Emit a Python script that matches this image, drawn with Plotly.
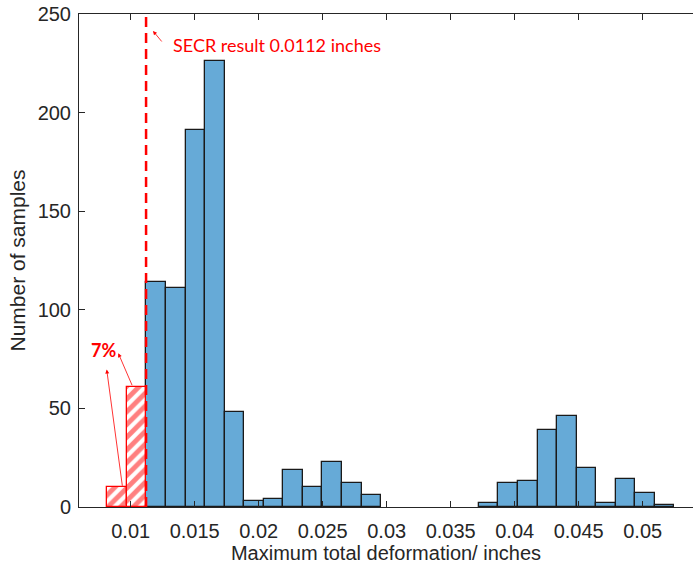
import plotly.graph_objects as go

# ---- data ----
bin_start = 0.00817          # left edge of first bin (inches)
bin_width = 0.001528         # bin width (inches)
counts = [10, 61, 114, 111, 191, 226, 48, 3, 4, 19, 10, 23, 12, 6,
          0, 0, 0, 0, 0,
          2, 12, 13, 39, 46, 20, 2, 14, 7, 1]
secr_value = 0.0112
below_pct_label = "7%"
secr_label = "SECR result 0.0112 inches"
x_tick_vals = [0.01, 0.015, 0.02, 0.025, 0.03, 0.035, 0.04, 0.045, 0.05]
x_tick_text = ["0.01", "0.015", "0.02", "0.025", "0.03", "0.035", "0.04", "0.045", "0.05"]
y_tick_vals = [0, 50, 100, 150, 200, 250]

left_edges = [bin_start + i * bin_width for i in range(len(counts))]

red_x = [e for e in left_edges if e < secr_value - 1e-6]
red_y = [c for e, c in zip(left_edges, counts) if e < secr_value - 1e-6]
blue_x = [e for e, c in zip(left_edges, counts) if e >= secr_value - 1e-6 and c > 0]
blue_y = [c for e, c in zip(left_edges, counts) if e >= secr_value - 1e-6 and c > 0]

AX = "#262626"
RED = "#ff0000"
FONT = "Liberation Sans"
CAL = "Lato"

fig = go.Figure()
fig.add_trace(go.Bar(
    x=blue_x, y=blue_y, width=bin_width, offset=0,
    marker=dict(color="#66aad7", line=dict(color="#1a1a1a", width=1.3)),
    showlegend=False, hoverinfo="x+y",
))
fig.add_trace(go.Bar(
    x=red_x, y=red_y, width=bin_width, offset=0,
    marker=dict(color="white", line=dict(color=RED, width=1.3),
                pattern=dict(shape="/", fgcolor=RED, bgcolor="white",
                             size=9, solidity=0.55)),
    showlegend=False, hoverinfo="x+y",
))

# SECR dashed line
fig.add_shape(type="line", x0=secr_value, x1=secr_value, y0=0, y1=250,
              xref="x", yref="y", line=dict(color=RED, width=2.5, dash="10px,6px"))

# SECR label + arrow
fig.add_annotation(x=0.01318, y=234.5, xref="x", yref="y", text=secr_label,
                   showarrow=False, xanchor="left", yanchor="middle",
                   font=dict(family=CAL, size=18, color=RED))
fig.add_annotation(x=0.01174, y=241.4, ax=0.01252, ay=235.3,
                   xref="x", yref="y", axref="x", ayref="y", text="",
                   showarrow=True, arrowhead=2, arrowsize=1, arrowwidth=0.8,
                   arrowcolor=RED, standoff=0, startstandoff=0)

# 7% label + arrows
fig.add_annotation(x=0.00786, y=79.7, xref="x", yref="y", text="<b>" + below_pct_label + "</b>",
                   showarrow=False, xanchor="center", yanchor="middle",
                   font=dict(family=CAL, size=18, color=RED))
fig.add_annotation(x=0.008125, y=69.7, ax=red_x[0] + 0.78 * bin_width, ay=red_y[0],
                   xref="x", yref="y", axref="x", ayref="y", text="",
                   showarrow=True, arrowhead=2, arrowsize=1, arrowwidth=0.8,
                   arrowcolor=RED, standoff=0, startstandoff=0)
fig.add_annotation(x=0.00903, y=78, ax=red_x[1] + 0.3 * bin_width, ay=red_y[1],
                   xref="x", yref="y", axref="x", ayref="y", text="",
                   showarrow=True, arrowhead=2, arrowsize=1, arrowwidth=0.8,
                   arrowcolor=RED, standoff=0, startstandoff=0)

fig.update_layout(
    width=693, height=567,
    margin=dict(l=79, r=0, t=14, b=60),
    paper_bgcolor="white", plot_bgcolor="white",
    bargap=0, barmode="overlay",
    font=dict(family=FONT, color=AX),
)
fig.update_xaxes(
    range=[0.00596, 0.05393], tickvals=x_tick_vals, ticktext=x_tick_text,
    showline=True, linecolor=AX, linewidth=1, mirror="ticks",
    ticks="inside", ticklen=6, tickcolor=AX, tickwidth=1,
    showgrid=False, zeroline=False, automargin=False, ticklabelstandoff=6,
    tickfont=dict(size=20, family=FONT, color=AX),
    title=dict(text="Maximum total deformation/ inches", font=dict(size=20, family=FONT, color=AX), standoff=2),
)
fig.update_yaxes(
    range=[0, 250], tickvals=y_tick_vals,
    showline=True, linecolor=AX, linewidth=1,
    ticks="inside", ticklen=6, tickcolor=AX, tickwidth=1,
    showgrid=False, zeroline=False, automargin=False, ticklabelstandoff=3,
    tickfont=dict(size=20, family=FONT, color=AX),
    title=dict(text="Number of samples", font=dict(size=21, family=FONT, color=AX), standoff=6),
)

fig.write_html("out.html", config={"displayModeBar": False},
               post_script="document.body.style.margin='0';")
